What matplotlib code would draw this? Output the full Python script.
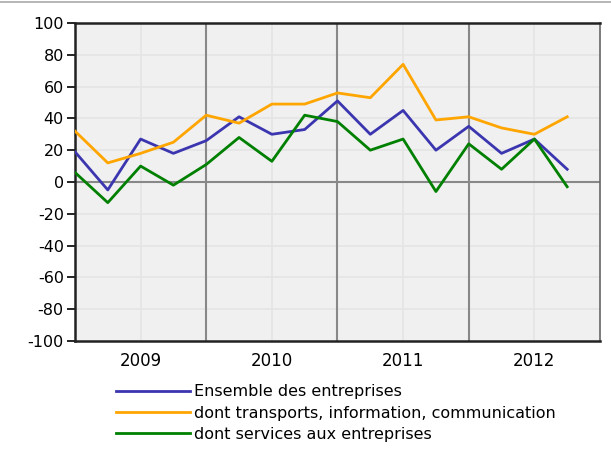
import numpy as np
import matplotlib
matplotlib.use('Agg')
import matplotlib.pyplot as plt
from matplotlib.lines import Line2D

plt.rcParams['axes.unicode_minus'] = False

# Trimestres 2009 T1 .. 2012 T4 (16 points)
years = ['2009', '2010', '2011', '2012']
ensemble = [19, -5, 27, 18, 26, 41, 30, 33, 51, 30, 45, 20, 35, 18, 27, 8]
transports = [32, 12, 18, 25, 42, 37, 49, 49, 56, 53, 74, 39, 41, 34, 30, 41]
services = [6, -13, 10, -2, 11, 28, 13, 42, 38, 20, 27, -6, 24, 8, 27, -3]

series_labels = ['Ensemble des entreprises',
                 'dont transports, information, communication',
                 'dont services aux entreprises']
colors = ['#3b36b0', '#ffa500', '#008000']

fig = plt.figure(figsize=(6.11, 4.51), dpi=100)
ax = fig.add_axes([0.1227, 0.244, 0.8593, 0.705])
ax.set_facecolor('#f0f0f0')

x = np.arange(len(ensemble))
n_q = 4 * len(years)

# grille
for v in range(-80, 101, 20):
    ax.axhline(v, color='#e4e4e4', lw=1.2, zorder=1)
for q in range(2, n_q, 4):
    ax.axvline(q, color='#e4e4e4', lw=1.2, zorder=1)
for q in range(4, n_q, 4):
    ax.axvline(q, color='#888888', lw=1.5, zorder=2)
ax.axhline(0, color='#888888', lw=1.5, zorder=2)

for vals, c in zip([ensemble, transports, services], colors):
    ax.plot(x, vals, color=c, lw=2.0, zorder=3)

ax.set_xlim(0, n_q)
ax.set_ylim(-100, 100)
ax.set_yticks(range(-100, 101, 20))
ax.set_xticks([])
ax.tick_params(axis='y', direction='out', length=6, width=1.2, labelsize=11.5, pad=2)

for side in ['left', 'bottom', 'top']:
    ax.spines[side].set_linewidth(1.8)
    ax.spines[side].set_color('#222222')
ax.spines['right'].set_linewidth(1.2)
ax.spines['right'].set_color('#666666')

# années centrées sous chaque bloc
for i, y in enumerate(years):
    ax.text(4 * i + 2, -107, y, ha='center', va='top', fontsize=12)

handles = [Line2D([0], [0], color=c, lw=2.0) for c in colors]
fig.legend(handles, series_labels, loc='upper left',
           bbox_to_anchor=(0.19, 0.148), frameon=False, fontsize=11.5,
           handlelength=4.6, handletextpad=0.3, labelspacing=0.4,
           borderaxespad=0, borderpad=0)

# filet gris en haut
fig.add_artist(Line2D([0, 1], [0.995, 0.995], transform=fig.transFigure,
                      color='#aaaaaa', lw=1.2))

fig.savefig('out.png', dpi=100, facecolor='white')
